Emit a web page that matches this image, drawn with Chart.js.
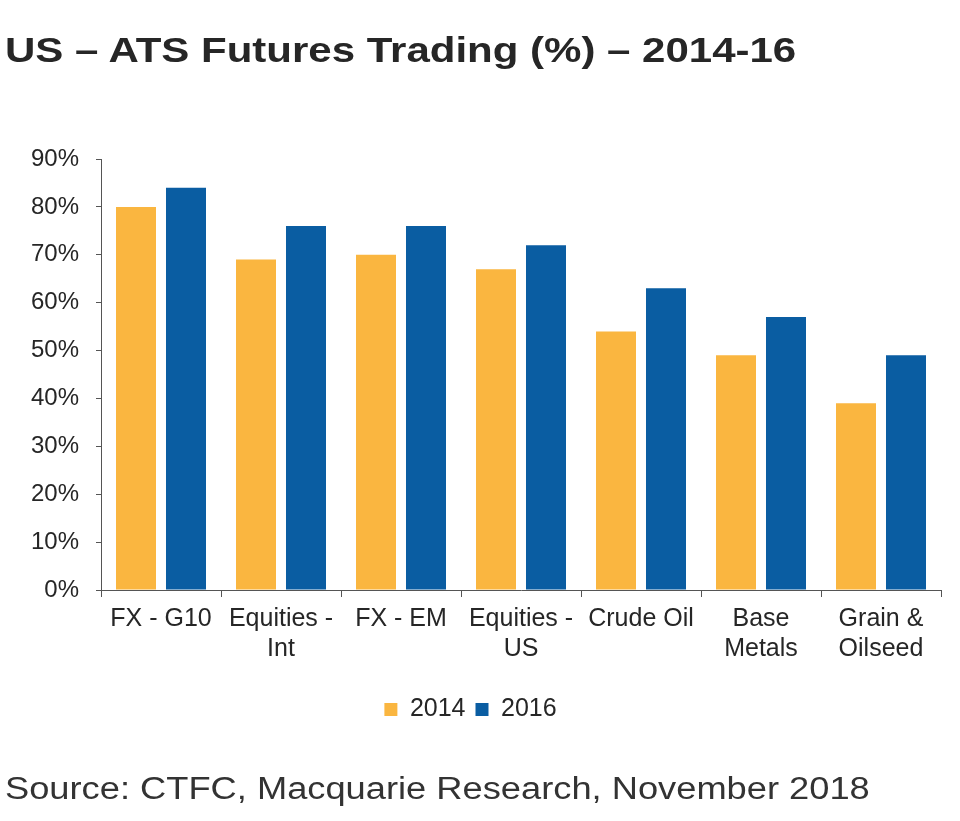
<!DOCTYPE html>
<html>
<head>
<meta charset="utf-8">
<script src="https://cdn.jsdelivr.net/npm/chart.js@4.4.1/dist/chart.umd.min.js"></script>
<style>
  html, body { margin: 0; padding: 0; background: #ffffff; width: 960px; height: 821px; overflow: hidden; }
  #wrap { position: absolute; left: 0; top: 0; width: 960px; height: 821px; }
  #title { position: absolute; left: 5px; top: 32px; font-family: 'Liberation Sans', Arial, sans-serif; font-weight: bold; font-size: 35px; line-height: 35px; color: #262626; white-space: nowrap; transform: scaleX(1.2); transform-origin: 0 0; }
  #source { position: absolute; left: 5px; top: 773px; font-family: 'Liberation Sans', Arial, sans-serif; font-size: 31px; line-height: 31px; color: #333333; white-space: nowrap; transform: scaleX(1.17); transform-origin: 0 0; }
</style>
</head>
<body>
<div id="wrap"><canvas id="c" width="960" height="821"></canvas></div>
<div id="title">US – ATS Futures Trading (%) – 2014-16</div>
<div id="source">Source: CTFC, Macquarie Research, November 2018</div>
<script>
const categories = [['FX - G10'], ['Equities -', 'Int'], ['FX - EM'], ['Equities -', 'US'], ['Crude Oil'], ['Base', 'Metals'], ['Grain &', 'Oilseed']];
const seriesNames = ['2014', '2016'];
const values2014 = [80, 69, 70, 67, 54, 49, 39];
const values2016 = [84, 76, 76, 72, 63, 57, 49];
const yTicks = [0, 10, 20, 30, 40, 50, 60, 70, 80, 90];

const FONT = "'Liberation Sans', Arial, sans-serif";
const TEXT = '#262626';
const AXIS = '#555555';

new Chart(document.getElementById('c'), {
  type: 'bar',
  data: {
    labels: categories,
    datasets: [
      { label: seriesNames[0], data: values2014, backgroundColor: '#FAB640', borderWidth: 0, categoryPercentage: 0.8333, barPercentage: 0.8 },
      { label: seriesNames[1], data: values2016, backgroundColor: '#0A5DA2', borderWidth: 0, categoryPercentage: 0.8333, barPercentage: 0.8 }
    ]
  },
  options: {
    responsive: false,
    animation: false,
    devicePixelRatio: 1,
    layout: { padding: { left: 0, right: 19, top: 159, bottom: 89 } },
    plugins: {
      title: { display: false },
      tooltip: { enabled: false },
      legend: {
        position: 'bottom',
        align: 'center',
        labels: {
          boxWidth: 13, boxHeight: 13, padding: 10,
          color: TEXT,
          font: { family: FONT, size: 25 }
        }
      }
    },
    scales: {
      x: {
        grid: { display: true, drawOnChartArea: false, drawTicks: true, tickLength: 7, color: AXIS, offset: true },
        border: { display: true, color: AXIS, width: 1 },
        ticks: { color: TEXT, padding: 7, maxRotation: 0, autoSkip: false, font: { family: FONT, size: 25, lineHeight: 1.2 } },
        afterFit: (s) => { s.height = 97; }
      },
      y: {
        min: 0, max: 90,
        afterBuildTicks: (s) => { s.ticks = yTicks.map(v => ({ value: v })); },
        grid: { display: true, drawOnChartArea: false, drawTicks: true, tickLength: 5, color: AXIS },
        border: { display: true, color: AXIS, width: 1 },
        ticks: { color: TEXT, padding: 17, callback: (v) => v + '%', font: { family: FONT, size: 24 } },
        afterFit: (s) => { s.width = 101; }
      }
    }
  }
});
</script>
</body>
</html>
